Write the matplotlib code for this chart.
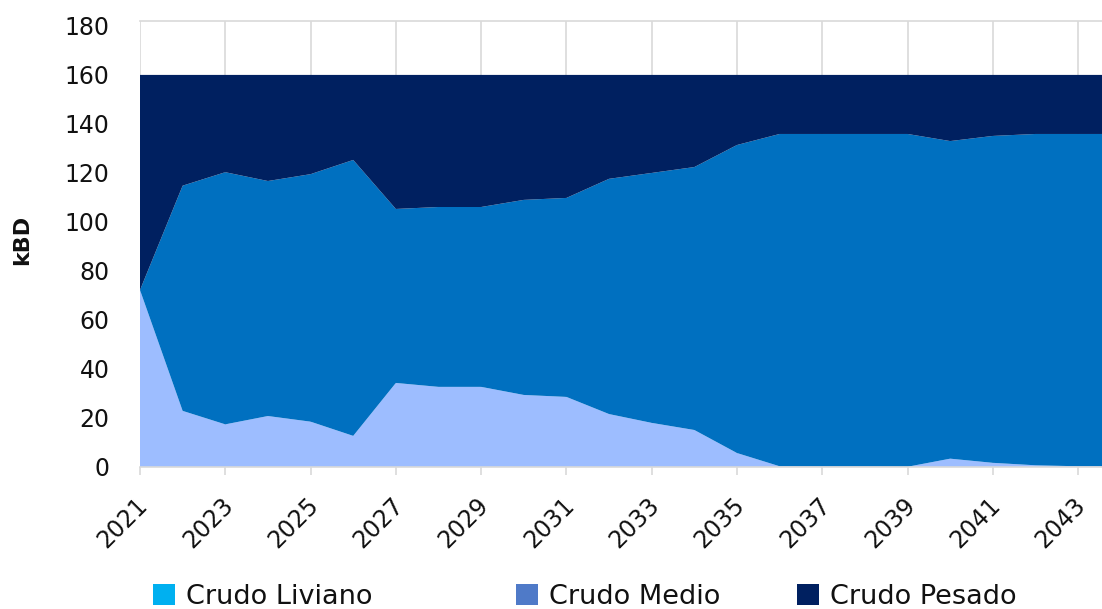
import numpy as np
import matplotlib
matplotlib.use("Agg")
import matplotlib.pyplot as plt
from matplotlib.patches import Patch
import matplotlib.transforms as mtransforms

plt.rcParams['font.family'] = ['DejaVu Sans']

# datos (kBD)
years = np.arange(2021, 2045)
liviano = [72.2, 22.9, 17.4, 20.8, 18.5, 12.7, 34.3, 32.7, 32.7, 29.4, 28.6, 21.6,
           18.0, 15.1, 5.7, 0.3, 0.2, 0.2, 0.1, 3.4, 1.7, 0.7, 0.3, 0.3]
tope_medio = [72.2, 114.8, 120.3, 116.7, 119.5, 125.3, 105.3, 106.1, 106.1, 109.0, 109.8, 117.6,
              120.0, 122.4, 131.4, 135.9, 135.9, 135.9, 135.9, 133.0, 135.1, 135.9, 135.9, 135.9]
total = 160.0
medio = [t - l for t, l in zip(tope_medio, liviano)]
pesado = [total - t for t in tope_medio]

tick_years = list(range(2021, 2044, 2))

c_liv_area = '#9DBDFF'
c_med_area = '#0070C0'
c_pes_area = '#002060'
c_liv_leg = '#00B0F0'
c_med_leg = '#4F7AC8'
c_pes_leg = '#002060'
grid_c = '#D9D9D9'

fig = plt.figure(figsize=(11.02, 6.09), dpi=100)
ax = fig.add_axes([140 / 1102, 142 / 609, 1 - 140 / 1102, (467 - 21) / 609])

ax.stackplot(years, liviano, medio, pesado,
             colors=[c_liv_area, c_med_area, c_pes_area], linewidth=0, zorder=2)

ax.set_xlim(2021, 2043.56)
ax.set_ylim(0, 182)
ax.set_yticks(range(0, 181, 20))
ax.set_xticks(tick_years)
ax.set_xticklabels([str(y) for y in tick_years])

ax.grid(axis='x', color=grid_c, linewidth=1.2, zorder=0)
ax.set_axisbelow(True)
for s in ['left', 'right']:
    ax.spines[s].set_visible(False)
for s in ['top', 'bottom']:
    ax.spines[s].set_color(grid_c)
    ax.spines[s].set_linewidth(1.2)
ax.spines['bottom'].set_zorder(3)

ax.tick_params(axis='y', length=0, pad=22, labelsize=17, labelcolor='#111111')
ax.tick_params(axis='x', length=6, width=1.2, color=grid_c, pad=19,
               labelsize=17, labelcolor='#111111')

offset = mtransforms.ScaledTranslation(4 / 100, 0, fig.dpi_scale_trans)
for lab in ax.get_xticklabels():
    lab.set_rotation(45)
    lab.set_ha('right')
    lab.set_va('center')
    lab.set_rotation_mode('anchor')
    lab.set_transform(lab.get_transform() + offset)

fig.text(22 / 1102, 1 - 240 / 609, 'kBD', rotation=90, ha='center', va='center',
         fontsize=16, fontweight='bold', color='#111111')

entradas = [('Crudo Liviano', c_liv_leg, 153), ('Crudo Medio', c_med_leg, 516),
            ('Crudo Pesado', c_pes_leg, 797)]
for nombre, color, xpix in entradas:
    leg = fig.legend(handles=[Patch(facecolor=color, edgecolor='none', label=nombre)],
                     loc='center left', bbox_to_anchor=(xpix / 1102, 12 / 609),
                     frameon=False, fontsize=19.5, borderpad=0, borderaxespad=0,
                     handlelength=0.82, handleheight=0.82, handletextpad=0.4)
    for t in leg.get_texts():
        t.set_color('#111111')

fig.savefig('out.png', dpi=100)
